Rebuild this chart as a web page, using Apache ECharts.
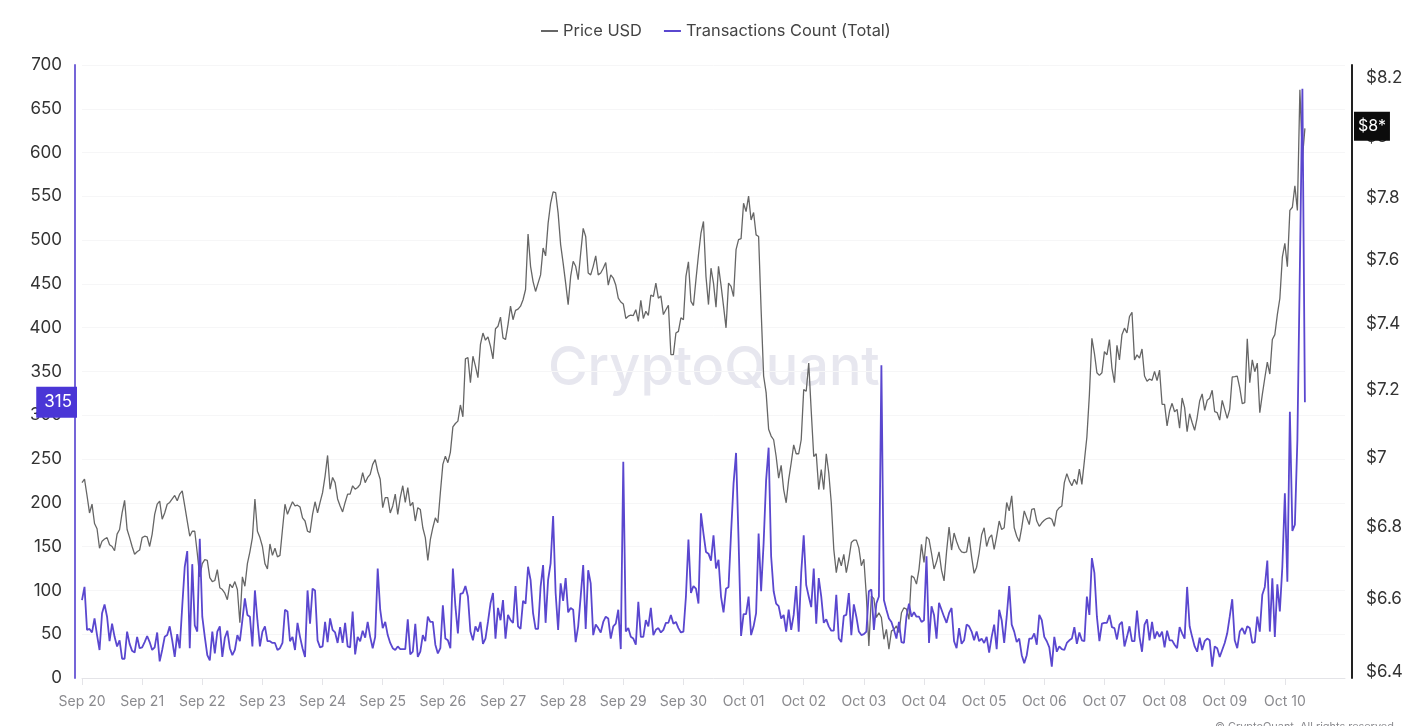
<!DOCTYPE html>
<html>
<head>
<meta charset="utf-8">
<title>Price USD and Transactions Count</title>
<script src="https://cdn.jsdelivr.net/npm/echarts@6/dist/echarts.min.js"></script>
<style>
  html, body { margin: 0; padding: 0; background: #fff; }
  #chart { width: 1408px; height: 726px; }
</style>
</head>
<body>
<div id="chart"></div>
<script>
// hourly readings, one line per day, starting Sep 20 00:00
const priceUsd = [
  6.927,6.937,6.89,6.84,6.865,6.81,6.795,6.74,6.76,6.766,6.77,6.75,6.745,6.733,6.78,6.793,6.84,6.876,6.793,6.77,6.745,6.723,6.73,6.735,
  6.77,6.774,6.772,6.745,6.78,6.836,6.865,6.874,6.822,6.84,6.865,6.87,6.88,6.89,6.875,6.894,6.903,6.86,6.817,6.774,6.788,6.788,6.726,6.66,
  6.697,6.708,6.706,6.658,6.647,6.65,6.68,6.63,6.625,6.615,6.597,6.64,6.63,6.647,6.625,6.534,6.66,6.634,6.697,6.73,6.77,6.88,6.788,6.77,
  6.745,6.697,6.682,6.752,6.72,6.74,6.716,6.72,6.793,6.865,6.836,6.855,6.872,6.86,6.862,6.857,6.826,6.817,6.788,6.785,6.836,6.872,6.84,6.87,
  6.898,6.946,7.006,6.908,6.942,6.927,6.88,6.86,6.843,6.87,6.894,6.894,6.918,6.908,6.913,6.922,6.956,6.927,6.942,6.951,6.98,6.994,6.96,6.937,
  6.855,6.884,6.884,6.84,6.86,6.894,6.836,6.884,6.918,6.87,6.913,6.86,6.87,6.817,6.855,6.85,6.798,6.77,6.706,6.764,6.798,6.826,6.812,6.898,
  6.98,7.004,6.985,7.015,7.09,7.10,7.107,7.155,7.12,7.294,7.298,7.222,7.302,7.272,7.237,7.338,7.373,7.351,7.361,7.333,7.294,7.386,7.394,7.422,
  7.358,7.353,7.399,7.456,7.414,7.443,7.447,7.456,7.476,7.508,7.684,7.581,7.533,7.502,7.528,7.554,7.639,7.614,7.718,7.783,7.82,7.818,7.751,7.65,
  7.591,7.528,7.461,7.549,7.597,7.581,7.539,7.623,7.702,7.676,7.56,7.554,7.581,7.614,7.554,7.56,7.575,7.593,7.522,7.554,7.544,7.522,7.481,7.469,
  7.463,7.418,7.425,7.428,7.427,7.445,7.409,7.474,7.418,7.44,7.427,7.491,7.486,7.528,7.481,7.488,7.43,7.445,7.459,7.307,7.307,7.373,7.378,7.42,
  7.414,7.549,7.595,7.471,7.458,7.539,7.617,7.687,7.724,7.549,7.461,7.575,7.528,7.453,7.581,7.522,7.456,7.389,7.528,7.518,7.486,7.634,7.666,7.669,
  7.783,7.756,7.806,7.729,7.753,7.681,7.676,7.445,7.242,7.192,7.083,7.063,7.052,7.003,6.94,6.977,6.907,6.869,6.936,6.984,7.037,7.011,7.011,7.052,
  7.201,7.196,7.281,7.137,7.003,7.011,6.907,6.965,6.907,7.011,6.955,6.869,6.737,6.672,6.714,6.691,6.723,6.672,6.709,6.756,6.763,6.763,6.741,6.691,
  6.709,6.607,6.471,6.607,6.6,6.548,6.561,6.548,6.489,6.516,6.462,6.511,6.516,6.525,6.507,6.561,6.575,6.571,6.543,6.663,6.658,6.64,6.681,6.751,
  6.7,6.772,6.765,6.726,6.682,6.702,6.73,6.678,6.649,6.73,6.8,6.735,6.783,6.759,6.74,6.73,6.728,6.73,6.772,6.716,6.67,6.687,6.726,6.778,
  6.798,6.745,6.769,6.778,6.737,6.774,6.817,6.793,6.798,6.87,6.846,6.889,6.798,6.774,6.759,6.798,6.846,6.826,6.807,6.85,6.852,6.817,6.802,6.812,
  6.819,6.824,6.826,6.822,6.802,6.846,6.855,6.86,6.927,6.953,6.932,6.918,6.937,6.922,6.966,6.922,6.99,7.06,7.186,7.357,7.311,7.252,7.244,7.252,
  7.316,7.306,7.353,7.266,7.222,7.335,7.291,7.368,7.388,7.373,7.424,7.437,7.291,7.306,7.296,7.324,7.242,7.226,7.233,7.229,7.256,7.228,7.26,7.157,
  7.157,7.093,7.137,7.16,7.135,7.142,7.086,7.176,7.147,7.076,7.129,7.103,7.08,7.117,7.167,7.188,7.139,7.169,7.175,7.199,7.135,7.132,7.11,7.169,
  7.142,7.115,7.142,7.239,7.24,7.242,7.206,7.159,7.162,7.355,7.222,7.291,7.255,7.281,7.132,7.186,7.236,7.284,7.248,7.353,7.368,7.43,7.48,7.61,
  7.654,7.58,7.76,7.77,7.84,7.76,8.16,7.93,8.03
];
const transactionsCount = [
  89,104,55,56,52,68,49,32,74,84,70,42,62,47,36,43,22,22,53,39,31,29,47,34,
  35,41,48,41,32,35,52,19,32,47,49,59,43,24,50,34,82,127,145,34,130,60,53,159,
  70,47,26,20,53,28,53,59,24,46,54,34,26,32,49,42,66,91,72,70,36,100,66,36,
  53,59,42,42,40,40,32,34,40,78,76,42,47,32,63,47,34,24,100,62,102,100,43,35,
  36,64,41,68,55,52,40,58,40,63,36,35,76,27,47,42,54,46,64,47,34,47,125,78,
  57,64,49,40,34,32,36,33,33,33,67,27,30,62,24,30,49,42,70,64,64,38,28,34,
  83,45,43,34,125,82,51,96,97,105,93,53,43,59,53,64,39,45,64,85,97,45,80,66,
  89,45,72,66,63,105,59,56,88,85,127,112,74,56,56,104,129,63,112,131,185,97,55,108,
  88,114,75,80,78,41,59,93,129,56,123,108,49,61,57,52,64,70,68,45,59,62,78,33,
  247,53,57,47,45,38,87,47,47,66,59,80,49,55,57,52,55,63,63,72,62,64,57,52,
  53,93,158,97,105,102,85,188,165,144,142,134,163,125,135,93,75,102,104,165,222,257,158,48,
  73,73,93,49,59,74,165,99,154,226,263,139,99,85,82,68,72,53,78,55,72,105,53,120,
  163,106,93,81,125,62,114,93,63,67,59,54,54,95,45,41,71,72,97,49,84,70,53,49,
  50,53,99,101,55,85,93,357,89,78,68,64,55,45,64,41,40,70,85,70,75,70,70,64,
  66,139,40,82,72,45,86,78,70,63,74,80,42,34,57,39,43,61,59,53,43,53,42,45,
  40,47,29,47,61,33,78,66,40,70,105,61,53,41,45,26,17,26,45,45,51,38,72,66,
  47,42,35,13,47,30,36,33,32,40,43,45,58,39,52,43,42,93,72,137,120,70,42,62,
  63,63,72,58,57,44,61,64,36,47,59,42,42,77,47,30,61,67,43,64,45,53,47,53,
  35,54,43,43,38,34,58,51,45,104,59,47,36,30,46,32,42,45,43,13,36,34,24,32,
  40,51,70,90,43,34,53,57,50,59,57,40,41,70,53,95,104,134,53,114,47,107,76,127,
  211,110,304,168,175,272,470,673,315
];
const dayLabels = ['Sep 20','Sep 21','Sep 22','Sep 23','Sep 24','Sep 25','Sep 26','Sep 27','Sep 28','Sep 29','Sep 30',
  'Oct 01','Oct 02','Oct 03','Oct 04','Oct 05','Oct 06','Oct 07','Oct 08','Oct 09','Oct 10','Oct 11'];
const rightTicks = [6.4,6.6,6.8,7,7.2,7.4,7.6,7.8,8,8.2];

// one category per hour, the axis runs on to the start of Oct 11
const hours = [];
dayLabels.forEach((day, d) => {
  const count = d === dayLabels.length - 1 ? 1 : 24;
  for (let h = 0; h < count; h++) hours.push(day + ' ' + String(h).padStart(2, '0'));
});
const isDayStart = i => i % 24 === 0 && i < hours.length - 1;

const chart = echarts.init(document.getElementById('chart'));
const FONT = 'Inter';
const PURPLE = '#5a47cf';
const HIDDEN_LINE = { color: 'rgba(0,0,0,0)', width: 0 };

chart.setOption({
  animation: false,
  textStyle: { fontFamily: FONT },
  legend: {
    top: 18,
    left: 536,
    itemWidth: 17,
    itemHeight: 2,
    itemGap: 22,
    icon: 'rect',
    textStyle: { fontFamily: FONT, fontSize: 16.4, color: '#444' },
    data: ['Price USD', 'Transactions Count (Total)']
  },
  grid: { left: 82, right: 63, top: 65, bottom: 48 },
  xAxis: {
    type: 'category',
    boundaryGap: false,
    data: hours,
    axisLine: { lineStyle: { color: '#e4e4e8', width: 1 } },
    axisTick: { show: true, length: 7, interval: isDayStart, lineStyle: { color: '#e4e4e8' } },
    splitLine: { show: false },
    axisLabel: {
      interval: isDayStart,
      color: '#8a8a8e',
      fontSize: 14,
      margin: 17,
      formatter: v => v.slice(0, 6)
    }
  },
  yAxis: [
    {
      type: 'value',
      position: 'left',
      offset: 7,
      min: 0,
      max: 700,
      interval: 50,
      axisLine: { show: true, lineStyle: { color: '#7565d8', width: 2 } },
      axisTick: { show: false },
      splitLine: { lineStyle: { color: '#f6f6f7', width: 1 } },
      axisLabel: { color: '#333', fontSize: 17, margin: 13, padding: [4, 0, 0, 0] }
    },
    {
      type: 'log',
      position: 'right',
      offset: 7,
      min: 6.385,
      max: 8.245,
      axisLine: { show: true, lineStyle: { color: '#222', width: 2 } },
      axisTick: { show: false },
      splitLine: { show: false },
      axisLabel: {
        customValues: rightTicks,
        color: '#333',
        fontSize: 17,
        margin: 14,
        padding: [4, 0, 0, 0],
        formatter: v => '$' + v
      }
    }
  ],
  graphic: [
    {
      type: 'text', left: 548, top: 342, z: 0, silent: true,
      style: { text: 'CryptoQuant', fontFamily: FONT, fontSize: 54, fontWeight: 500, fill: '#e7e7ef' }
    },
    {
      type: 'text', left: 1215, top: 721, z: 0, silent: true,
      style: { text: '© CryptoQuant. All rights reserved.', fontFamily: FONT, fontSize: 10.9, fill: '#8a8a8e' }
    }
  ],
  series: [
    {
      name: 'Price USD',
      type: 'line',
      yAxisIndex: 1,
      showSymbol: false,
      z: 3,
      color: '#666',
      lineStyle: { width: 1.3, color: '#666' },
      data: priceUsd,
      markLine: {
        silent: true,
        symbol: 'none',
        animation: false,
        lineStyle: HIDDEN_LINE,
        label: {
          show: true,
          position: 'end',
          distance: 9,
          offset: [0, -2],
          formatter: '$8*',
          color: '#fff',
          fontSize: 16,
          fontFamily: FONT,
          backgroundColor: '#0c0c0c',
          padding: [7, 4, 6, 4]
        },
        data: [{ yAxis: priceUsd[priceUsd.length - 1] }]
      }
    },
    {
      name: 'Transactions Count (Total)',
      type: 'line',
      yAxisIndex: 0,
      showSymbol: false,
      z: 4,
      color: PURPLE,
      lineStyle: { width: 1.8, color: PURPLE },
      data: transactionsCount,
      markLine: {
        silent: true,
        symbol: 'none',
        animation: false,
        lineStyle: HIDDEN_LINE,
        label: {
          show: true,
          position: 'start',
          distance: 6,
          offset: [1, 0],
          formatter: '{c}',
          color: '#fff',
          fontSize: 17,
          fontFamily: FONT,
          backgroundColor: '#4a36d6',
          padding: [7, 5, 7, 8]
        },
        data: [{ yAxis: transactionsCount[transactionsCount.length - 1] }]
      }
    }
  ]
});
</script>
</body>
</html>
